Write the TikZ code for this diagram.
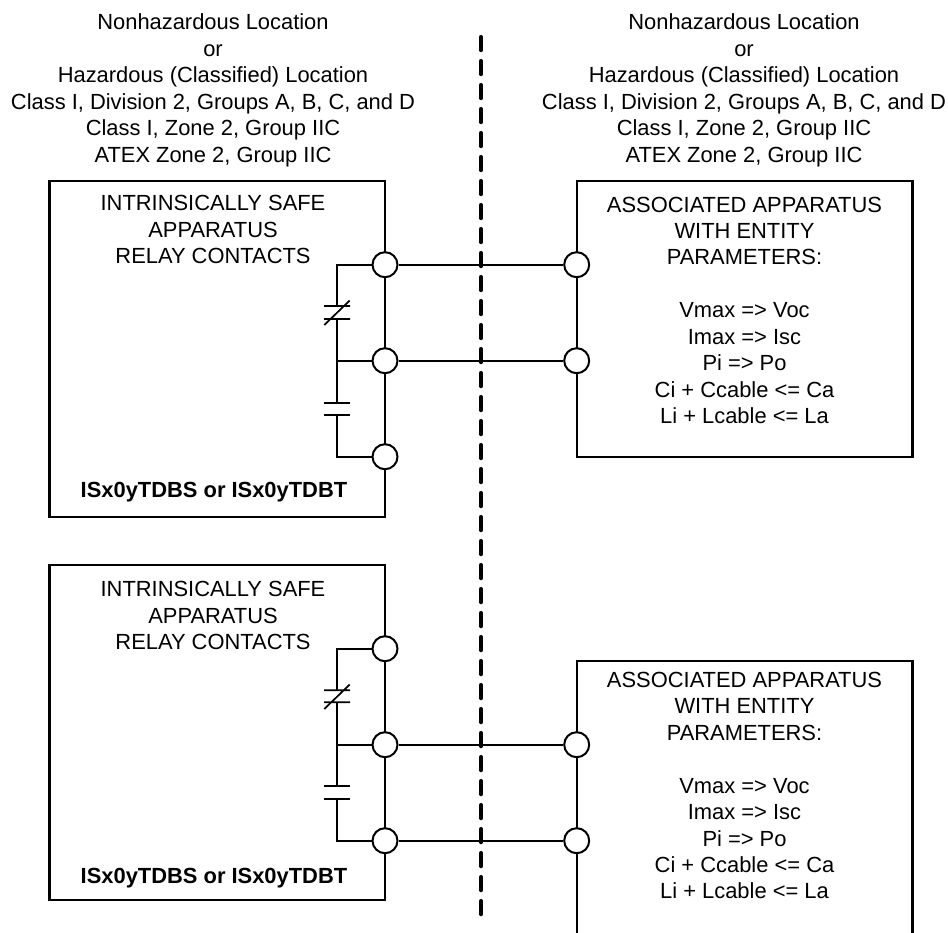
\documentclass[tikz,border=0pt]{standalone}
\usepackage{fontspec}
\setmainfont{Liberation Sans}
\newcommand{\fl}{\rule{0pt}{20pt}}
\begin{document}
\begin{tikzpicture}[x=1pt,y=-1pt,
  wire/.style={line width=2.1pt,black},
  plate/.style={line width=1.7pt,black},
  term/.style={circle,draw=black,fill=white,line width=2pt,minimum size=25pt,inner sep=0pt},
  lbl/.style={inner sep=0pt,outer sep=0pt,align=center,font=\fontsize{21.9}{26.45}\selectfont,anchor=north},
  lblb/.style={lbl,font=\fontsize{21.9}{26.45}\selectfont\bfseries},
  boundary/.style={line width=3.9pt,line cap=round,dash pattern=on 13.4pt off 10.6pt,black}]
\useasboundingbox (0,0) rectangle (948,933);
\coordinate (bt) at (481,36.9);
\coordinate (bb) at (481,914.4);
\coordinate (ul1) at (49.5,181);\coordinate (ul2) at (385,181);\coordinate (ul3) at (385,516.7);\coordinate (ul4) at (49.5,516.7);
\coordinate (ur1) at (576.7,181);\coordinate (ur2) at (912.5,181);\coordinate (ur3) at (912.5,456.7);\coordinate (ur4) at (576.7,456.7);
\coordinate (ll1) at (49.5,564.7);\coordinate (ll2) at (385,564.7);\coordinate (ll3) at (385,900.4);\coordinate (ll4) at (49.5,900.4);
\coordinate (lr1) at (576.7,660.7);\coordinate (lr2) at (912.5,660.7);\coordinate (lr3) at (912.5,934);\coordinate (lr4) at (576.7,934);
\draw[wire] (ul1)--(ul2)--(ul3)--(ul4)--cycle;
\draw[wire] (ur1)--(ur2)--(ur3)--(ur4)--cycle;
\draw[wire] (ll1)--(ll2)--(ll3)--(ll4)--cycle;
\draw[wire] (lr4)--(lr1)--(lr2)--(lr3);
\node[term] (a1) at (385,264.7) {};
\node[term] (a2) at (385,360.7) {};
\node[term] (a3) at (385,456.7) {};
\node[term] (b1) at (576.7,264.7) {};
\node[term] (b2) at (576.7,360.7) {};
\node[term] (c1) at (385,648.7) {};
\node[term] (c2) at (385,744.7) {};
\node[term] (c3) at (385,840.7) {};
\node[term] (d2) at (576.7,744.7) {};
\node[term] (d3) at (576.7,840.7) {};
\draw[wire] (a1)--(b1);
\draw[wire] (a2)--(b2);
\draw[wire] (c2)--(d2);
\draw[wire] (c3)--(d3);
\draw[boundary] (bt)--(bb);
\coordinate (j1) at (336.7,264.7);\coordinate (j2) at (336.7,360.7);\coordinate (j3) at (336.7,456.7);
\draw[wire] (a1)--(j1)--(336.7,306);
\draw[wire] (336.7,319)--(336.7,402.7);
\draw[wire] (j2)--(a2);
\draw[wire] (336.7,414.7)--(j3)--(a3);
\draw[plate] (324,306)--(350,306) (324,319)--(350,319) (324.3,325)--(349.7,300.5);
\draw[plate] (324,402.7)--(350,402.7) (324,414.7)--(350,414.7);
\coordinate (k1) at (336.7,648.7);\coordinate (k2) at (336.7,744.7);\coordinate (k3) at (336.7,840.7);
\draw[wire] (c1)--(k1)--(336.7,690.3);
\draw[wire] (336.7,702.3)--(336.7,786);
\draw[wire] (k2)--(c2);
\draw[wire] (336.7,798.7)--(k3)--(c3);
\draw[plate] (324,690.3)--(350,690.3) (324,702.3)--(350,702.3) (324.3,709)--(349.7,684.5);
\draw[plate] (324,786)--(350,786) (324,798.7)--(350,798.7);
\node[lbl] (locL) at (213,10) {\fl Nonhazardous Location\\or\\Hazardous (Classified) Location\\Class I, Division 2, Groups A, B, C, and D\\Class I, Zone 2, Group IIC\\ATEX Zone 2, Group IIC};
\node[lbl] (locR) at (744,10) {\fl Nonhazardous Location\\or\\Hazardous (Classified) Location\\Class I, Division 2, Groups A, B, C, and D\\Class I, Zone 2, Group IIC\\ATEX Zone 2, Group IIC};
\node[lbl] (isU) at (213,190.7) {\fl INTRINSICALLY SAFE\\APPARATUS\\RELAY CONTACTS};
\node[lbl] (isL) at (213,576.7) {\fl INTRINSICALLY SAFE\\APPARATUS\\RELAY CONTACTS};
\node[lbl] (aaU) at (744.5,192) {\fl ASSOCIATED APPARATUS\\WITH ENTITY\\PARAMETERS:\\[26.45pt]Vmax => Voc\\Imax => Isc\\Pi => Po\\Ci + Ccable <= Ca\\Li + Lcable <= La};
\node[lbl] (aaL) at (744.5,667.3) {\fl ASSOCIATED APPARATUS\\WITH ENTITY\\PARAMETERS:\\[26.45pt]Vmax => Voc\\Imax => Isc\\Pi => Po\\Ci + Ccable <= Ca\\Li + Lcable <= La};
\node[lblb] (idU) at (214,477.3) {\fl ISx0yTDBS or ISx0yTDBT};
\node[lblb] (idL) at (214,863.3) {\fl ISx0yTDBS or ISx0yTDBT};
\end{tikzpicture}
\end{document}
